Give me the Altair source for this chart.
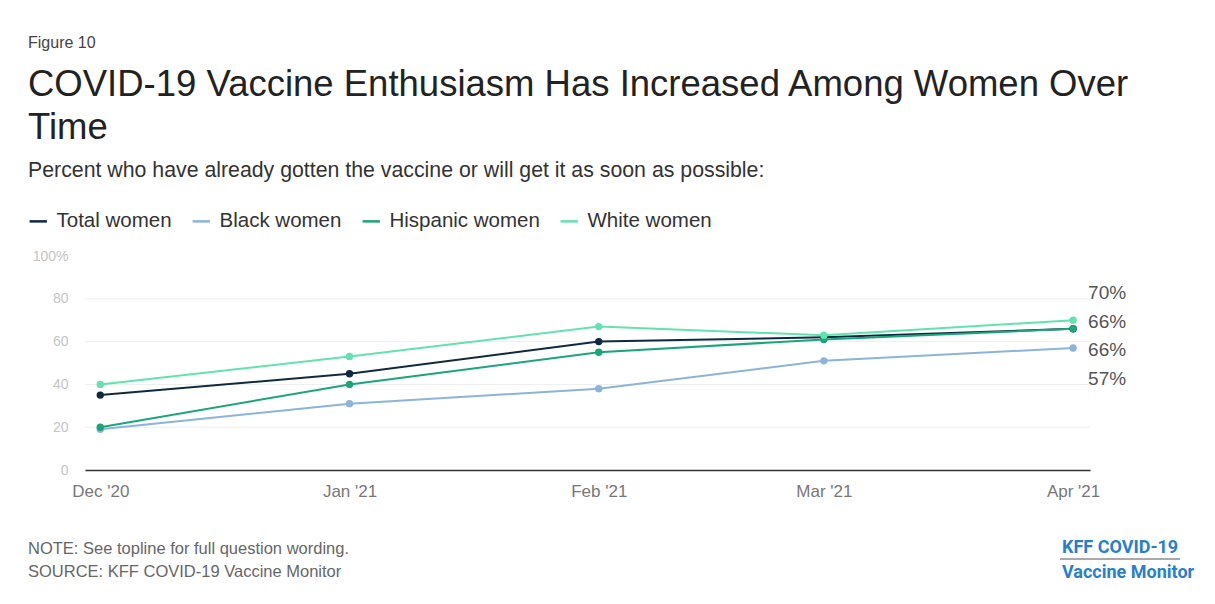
import altair as alt
import pandas as pd

# Survey months and the share of women in each group who already got the
# vaccine or will get it as soon as possible (percent)
months = ["2020-12-01", "2021-01-01", "2021-02-01", "2021-03-01", "2021-04-01"]
month_labels = ["Dec '20", "Jan '21", "Feb '21", "Mar '21", "Apr '21"]
series = ["Total women", "Black women", "Hispanic women", "White women"]
total_women = [35, 45, 60, 62, 66]
black_women = [19, 31, 38, 51, 57]
hispanic_women = [20, 40, 55, 61, 66]
white_women = [40, 53, 67, 63, 70]
y_ticks = [0, 20, 40, 60, 80, 100]
grid_values = [20, 40, 60, 80]
# end-of-line labels, top to bottom
end_label_series = ["White women", "Total women", "Hispanic women", "Black women"]

colors = ["#0f2a40", "#8cb3da", "#1ba57a", "#62e2ae"]
FONT = "Liberation Sans"

# x position = days since the first survey month, so spacing follows the calendar
dates = pd.to_datetime(months)
days = [(d - dates[0]).days for d in dates]

values = {
    "Total women": total_women,
    "Black women": black_women,
    "Hispanic women": hispanic_women,
    "White women": white_women,
}
rows = []
for s in series:
    for d, v in zip(days, values[s]):
        rows.append({"day": d, "value": v, "series": s})
df = pd.DataFrame(rows)

# plot area geometry (pixels)
W, H = 1005, 214
LEFT, TOP = 85, 256

label_expr = ""
for d, lab in zip(days, month_labels):
    label_expr += f"datum.value == {d} ? \"{lab}\" : "
label_expr += "''"

x_enc = alt.X(
    "day:Q",
    scale=alt.Scale(domain=[-1.9, days[-1] + 2.1], nice=False, zero=False),
    axis=alt.Axis(
        values=days, labelExpr=label_expr, title=None, grid=False, ticks=False,
        domainColor="#333333", domainWidth=1.5, labelFontSize=17,
        labelColor="#777777", labelPadding=13, labelFont=FONT,
        labelFlush=False, labelOverlap=False,
    ),
)
y_scale = alt.Scale(domain=[0, 100], nice=False)
y_axis = alt.Axis(
    values=y_ticks, labelExpr="datum.value == 100 ? '100%' : datum.label",
    title=None, grid=False, domain=False, ticks=False, labelFontSize=14,
    labelColor="#c4c4c4", labelPadding=17, labelFont=FONT,
)
color_scale = alt.Scale(domain=series, range=colors)

grid = alt.Chart(pd.DataFrame({"g": grid_values})).mark_rule(
    color="#eeeeee", strokeWidth=1
).encode(y=alt.Y("g:Q", scale=y_scale, axis=y_axis))

lines = alt.Chart(df).mark_line(strokeWidth=2).encode(
    x=x_enc,
    y=alt.Y("value:Q", scale=y_scale, axis=y_axis),
    color=alt.Color(
        "series:N", scale=color_scale, sort=series,
        legend=alt.Legend(
            orient="none", legendX=-57, legendY=-45, direction="horizontal",
            title=None, symbolType="stroke", symbolSize=300,
            symbolStrokeWidth=2.5, labelFontSize=20.5, labelColor="#333333",
            labelFont=FONT, labelOffset=8, columnPadding=15,
        ),
    ),
    order=alt.Order("day:Q"),
)

points = alt.Chart(df).mark_circle(size=55, opacity=1).encode(
    x="day:Q",
    y="value:Q",
    color=alt.Color("series:N", scale=color_scale, legend=None),
)

# stacked value labels to the right of the last survey month
last = {s: values[s][-1] for s in series}
end_df = pd.DataFrame({
    "series": end_label_series,
    "text": [f"{last[s]}%" for s in end_label_series],
    "rank": list(range(len(end_label_series))),
})
end_labels = alt.Chart(end_df).transform_calculate(
    day=str(days[-1]), pos="82.7 - datum.rank * 13.4"
).mark_text(
    align="left", baseline="middle", dx=15, fontSize=19, color="#555555", font=FONT
).encode(x="day:Q", y=alt.Y("pos:Q", scale=y_scale), text="text:N")


def note(txt, x, y, size, color, weight="normal", font=FONT):
    return alt.Chart(pd.DataFrame({"t": [txt]})).mark_text(
        align="left", baseline="alphabetic", fontSize=size, color=color,
        fontWeight=weight, font=font,
    ).encode(text="t:N", x=alt.value(x - LEFT), y=alt.value(y - TOP))


texts = [
    note("Figure 10", 28, 48, 16, "#444444"),
    note("COVID-19 Vaccine Enthusiasm Has Increased Among Women Over", 28, 96, 36.5, "#222222"),
    note("Time", 28, 139, 36.5, "#222222"),
    note("Percent who have already gotten the vaccine or will get it as soon as possible:",
         28, 177, 21.3, "#333333"),
    note("NOTE: See topline for full question wording.", 28, 554, 16.5, "#666666"),
    note("SOURCE: KFF COVID-19 Vaccine Monitor", 28, 577, 16.5, "#666666"),
    note("KFF COVID-19", 1062, 553, 18, "#2a7fc9", "bold", "Roboto"),
    note("Vaccine Monitor", 1062, 578, 18, "#2a7fc9", "bold", "Roboto"),
]

logo_rule = alt.Chart(pd.DataFrame({"r": [0]})).mark_rule(
    color="#555555", strokeWidth=1
).encode(x=alt.value(1060 - LEFT), x2=alt.value(1180 - LEFT), y=alt.value(559 - TOP))

chart = alt.layer(grid, lines, points, end_labels, logo_rule, *texts).properties(
    width=W,
    height=H,
    autosize=alt.AutoSizeParams(type="none"),
    padding={"left": LEFT, "top": TOP, "right": 1215 - LEFT - W, "bottom": 604 - TOP - H},
    background="white",
).configure_view(stroke=None)

chart.save("out.html", embed_options={"renderer": "svg", "actions": False})
